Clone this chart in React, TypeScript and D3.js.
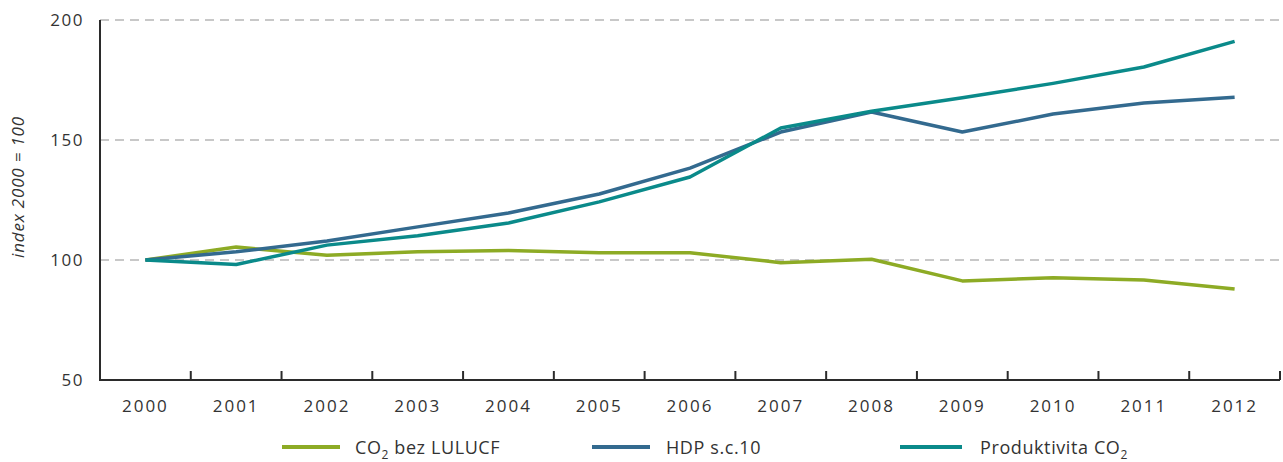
import React from "react";
import * as d3 from "d3";

const years = ["2000","2001","2002","2003","2004","2005","2006","2007","2008","2009","2010","2011","2012"];
const co2 = [100, 105.4, 102, 103.4, 104, 103, 103, 98.9, 100.3, 91.3, 92.6, 91.7, 87.9];
const hdp = [100, 103.4, 107.9, 113.8, 119.6, 127.5, 138.3, 153.3, 161.7, 153.3, 160.8, 165.4, 167.8];
const prod = [100, 98.1, 106.2, 110.1, 115.4, 124.2, 134.6, 155, 162, 167.6, 173.6, 180.4, 191.1];
const yTicks = [50, 100, 150, 200];

const series = [
  { name: "CO2 bez LULUCF", values: co2, color: "#8dab25" },
  { name: "HDP s.c.10", values: hdp, color: "#336a8f" },
  { name: "Produktivita CO2", values: prod, color: "#0a8a8a" },
];

const W = 1283, H = 462;
const left = 100, right = 1280, top = 20, bottom = 380;
const font = "'Open Sans', sans-serif";

export default function App() {
  const x = d3.scaleBand<string>().domain(years).range([left, right]);
  const y = d3.scaleLinear().domain([50, 200]).range([bottom, top]);
  const cx = (i: number) => (x(years[i]) as number) + x.bandwidth() / 2;
  const line = d3.line<number>().x((_, i) => cx(i)).y((d) => y(d));
  const tickXs = years.slice(1).map((yr) => x(yr) as number).concat([right]);

  const legend = [
    { x1: 282, x2: 340, tx: 355, s: series[0], label: <>CO<tspan fontSize="12" dy="5">2</tspan><tspan dy="-5"> bez LULUCF</tspan></> },
    { x1: 592, x2: 650, tx: 666, s: series[1], label: <>HDP s.c.10</> },
    { x1: 900, x2: 962, tx: 980, s: series[2], label: <>Produktivita CO<tspan fontSize="12" dy="5">2</tspan></> },
  ];

  return (
    <svg width={W} height={H} style={{ position: "absolute", left: 0, top: 0, background: "#fff" }}>
      {yTicks.filter((t) => t > 50).map((t) => (
        <line key={t} x1={left} x2={W} y1={y(t)} y2={y(t)} stroke="#c8c8c8" strokeWidth={2} strokeDasharray="9,6" />
      ))}
      {yTicks.map((t) => (
        <text key={t} x={84} y={y(t)} dy="0.35em" textAnchor="end" fontFamily={font} fontSize={17} letterSpacing={1.5} fill="#333">{t}</text>
      ))}
      <text transform={`translate(24,187) rotate(-90)`} textAnchor="middle" fontFamily={font} fontStyle="italic" fontSize={17} letterSpacing={0.8} fill="#333">index 2000 = 100</text>
      {series.map((s) => (
        <path key={s.name} d={line(s.values) || ""} fill="none" stroke={s.color} strokeWidth={3.5} strokeLinejoin="round" />
      ))}
      <line x1={left} x2={left} y1={top} y2={bottom} stroke="#2b2b2b" strokeWidth={2} />
      <line x1={left - 1} x2={right} y1={bottom} y2={bottom} stroke="#2b2b2b" strokeWidth={2} />
      {tickXs.map((tx, i) => (
        <line key={i} x1={tx} x2={tx} y1={bottom} y2={bottom - 9} stroke="#2b2b2b" strokeWidth={2} />
      ))}
      {years.map((yr, i) => (
        <text key={yr} x={cx(i)} y={412} textAnchor="middle" fontFamily={font} fontSize={17} letterSpacing={2} fill="#333">{yr}</text>
      ))}
      {legend.map((l, i) => (
        <g key={i}>
          <line x1={l.x1} x2={l.x2} y1={447} y2={447} stroke={l.s.color} strokeWidth={4} />
          <text x={l.tx} y={454} fontFamily={font} fontSize={18} letterSpacing={0.6} fill="#333">{l.label}</text>
        </g>
      ))}
    </svg>
  );
}
